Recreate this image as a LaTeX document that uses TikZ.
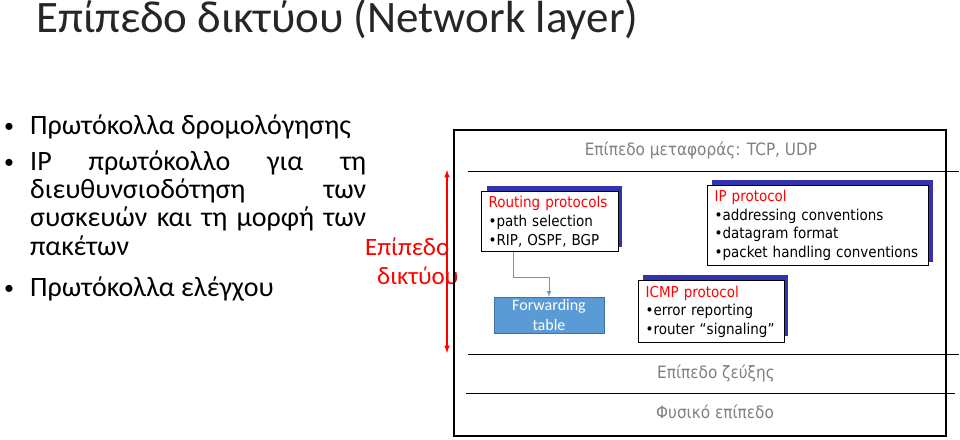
\documentclass[tikz,border=0pt]{standalone}
\usepackage{fontspec}
\setmainfont{Carlito}
\newfontfamily\boxfont{DejaVu Sans Condensed}
\definecolor{ftfill}{RGB}{91,155,213}
\definecolor{ftdraw}{RGB}{65,113,156}
\begin{document}
\begin{tikzpicture}[x=1pt,y=-1pt,
  bul/.style={anchor=base west,font=\fontsize{28}{30}\selectfont,inner sep=0},
  gr/.style={text=gray,font=\boxfont\fontsize{17}{19}\selectfont},
  shadowbox/.style={fill=blue!60!black!80},
  whitebox/.style={draw=black,fill=white,line width=1.2pt,align=left,anchor=north west,inner xsep=7pt,inner ysep=5pt,font=\boxfont\fontsize{15}{18.5}\selectfont},
  layer/.style={line width=1pt}]
\useasboundingbox (0,0) rectangle (960,439);
\node[anchor=base west,inner sep=0,font=\fontsize{45}{48}\selectfont\color{black!85}] (title) at (36,32) {Επίπεδο δικτύου (Network layer)};
\node[bul,font=\fontsize{20}{22}\selectfont] (b1) at (4,132) {•};
\node[bul] (l1) at (30,134) {Πρωτόκολλα δρομολόγησης};
\node[bul,font=\fontsize{20}{22}\selectfont] (b2) at (4,168) {•};
\node[bul] (l2) at (30,170) {\makebox[336pt][s]{IP πρωτόκολλο για τη}};
\node[bul] (l3) at (30,198) {\makebox[336pt][s]{διευθυνσιοδότηση των}};
\node[bul] (l4) at (30,226) {\makebox[336pt][s]{συσκευών και τη μορφή των}};
\node[bul] (l5) at (30,255) {πακέτων};
\node[bul,font=\fontsize{20}{22}\selectfont] (b3) at (4,294) {•};
\node[bul] (l6) at (30,296) {Πρωτόκολλα ελέγχου};
\node[bul,text=red,font=\fontsize{25}{28}\selectfont] (e1) at (365,255) {Επίπεδο};
\node[bul,text=red,font=\fontsize{25}{28}\selectfont] (e2) at (377,284) {δικτύου};
\coordinate (at) at (447,170);
\coordinate (ab) at (447,353);
\draw[red,line width=1.5pt,<->,>=latex] (at) -- (ab);
% outer box
\draw[line width=1.2pt] (454,130) rectangle (946,436);
\coordinate (t1) at (468,171); \coordinate (t2) at (959,171);
\coordinate (z1) at (468,354); \coordinate (z2) at (959,354);
\coordinate (f1) at (466,393); \coordinate (f2) at (955,393);
\draw[layer] (t1) -- (t2); \draw[layer] (z1) -- (z2); \draw[layer] (f1) -- (f2);
\node[gr] (tl) at (701,150) {Επίπεδο μεταφοράς: TCP, UDP};
\node[gr] (zl) at (716,373) {Επίπεδο ζεύξης};
\node[gr] (fl) at (715,412) {Φυσικό επίπεδο};
% shadows
\fill[shadowbox] (487,186) rectangle (622,247);
\fill[shadowbox] (712,180) rectangle (933,262);
\fill[shadowbox] (643,275) rectangle (788,336);
\node[whitebox,text width=123pt] (rp) at (481,191) {\textcolor{red}{Routing protocols}\\•path selection\\•RIP, OSPF, BGP};
\node[whitebox,text width=207pt] (ip) at (707,185) {\textcolor{red}{IP protocol}\\•addressing conventions\\•datagram format\\•packet handling conventions};
\node[whitebox,text width=132pt] (ic) at (638,280) {\textcolor{red}{ICMP protocol}\\•error reporting\\•router “signaling”};
\node[fill=ftfill,draw=ftdraw,text=white,minimum width=110pt,minimum height=36pt,align=center,font=\fontsize{16}{20}\selectfont,inner sep=0] (ft) at (549,315) {Forwarding\\table};
\coordinate (c1) at (513,277);
\draw[ftfill,line width=1pt,->,>=latex] (rp.south -| c1) -- (c1) -| (ft.north);
\end{tikzpicture}
\end{document}
